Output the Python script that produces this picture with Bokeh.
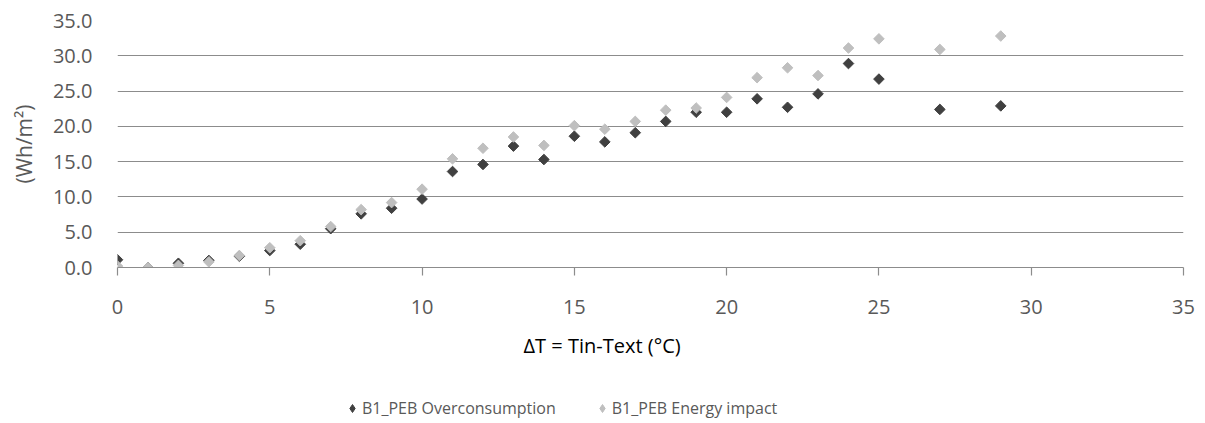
import math
from bokeh.plotting import figure
from bokeh.layouts import column
from bokeh.models import (ColumnDataSource, FixedTicker, NumeralTickFormatter,
                          Legend, LegendItem, Title)
from bokeh.embed import file_html
from bokeh.resources import INLINE

# ---- data ----
delta_t = [0, 1, 2, 3, 4, 5, 6, 7, 8, 9, 10, 11, 12, 13, 14, 15, 16, 17, 18,
           19, 20, 21, 22, 23, 24, 25, 27, 29]
overconsumption = [1.1, 0.0, 0.6, 1.0, 1.6, 2.4, 3.3, 5.5, 7.6, 8.4, 9.7, 13.6,
                   14.6, 17.2, 15.3, 18.6, 17.8, 19.1, 20.7, 22.0, 22.0, 23.9,
                   22.7, 24.6, 28.9, 26.7, 22.4, 22.9]
energy_impact = [0.2, 0.0, 0.3, 0.8, 1.7, 2.8, 3.8, 5.8, 8.2, 9.2, 11.1, 15.4,
                 16.9, 18.5, 17.3, 20.1, 19.6, 20.7, 22.3, 22.6, 24.1, 26.9,
                 28.3, 27.2, 31.1, 32.4, 30.9, 32.8]
series_names = ["B1_PEB Overconsumption", "B1_PEB Energy impact"]
series_colors = ["#404040", "#bfbfbf"]
x_ticks = [0, 5, 10, 15, 20, 25, 30, 35]
y_ticks = [0, 5, 10, 15, 20, 25, 30, 35]
x_title = "ΔT = Tin-Text (°C)"
y_title = "(Wh/m²)"

FONT = "Open Sans"
GRID = "#8c8c8c"
TXT = "#595959"
MARK = dict(marker="square", angle=math.pi / 4, size=7.5)

src = ColumnDataSource(dict(x=delta_t, a=overconsumption, b=energy_impact))

p = figure(width=1197, height=394, output_backend="svg", toolbar_location=None,
           x_range=(0, 35), y_range=(0, 35),
           min_border_left=117, min_border_right=14, min_border_top=20,
           min_border_bottom=127)
p.outline_line_color = None
p.background_fill_color = "white"
p.border_fill_color = "white"

p.scatter("x", "a", source=src, fill_color=series_colors[0],
          line_color=series_colors[0], **MARK)
p.scatter("x", "b", source=src, fill_color=series_colors[1],
          line_color=series_colors[1], **MARK)

# grid
p.xgrid.grid_line_color = None
p.ygrid.grid_line_color = GRID
p.ygrid.grid_line_width = 1.2
p.ygrid.ticker = FixedTicker(ticks=y_ticks)

# x axis
xa = p.xaxis[0]
xa.ticker = FixedTicker(ticks=x_ticks)
xa.axis_line_color = GRID
xa.axis_line_width = 1.2
xa.major_tick_line_color = GRID
xa.major_tick_line_width = 1.2
xa.major_tick_out = 8
xa.major_tick_in = 0
xa.minor_tick_line_color = None
xa.major_label_standoff = 24
xa.major_label_text_font = FONT
xa.major_label_text_font_size = "20px"
xa.major_label_text_color = TXT

# y axis
ya = p.yaxis[0]
ya.ticker = FixedTicker(ticks=y_ticks)
ya.formatter = NumeralTickFormatter(format="0.0")
ya.axis_line_color = None
ya.major_tick_line_color = None
ya.minor_tick_line_color = None
ya.major_tick_out = 0
ya.major_tick_in = 0
ya.major_label_standoff = 25
ya.major_label_text_font = FONT
ya.major_label_text_font_size = "20px"
ya.major_label_text_color = TXT
ya.axis_label = y_title
ya.axis_label_text_font = FONT
ya.axis_label_text_font_size = "21px"
ya.axis_label_text_font_style = "normal"
ya.axis_label_text_color = TXT
ya.axis_label_standoff = 12

# x axis title (centred on the chart area as in the reference)
t = Title(text=x_title, align="left", offset=406, text_font=FONT,
          text_font_size="20px", text_font_style="normal", text_color="#000000",
          standoff=26)
p.add_layout(t, "below")

# legend strip below the chart (same series, drawn outside its visible range)
pl = figure(width=1197, height=27, output_backend="svg", toolbar_location=None,
            x_range=(-100, -99), y_range=(-100, -99), x_axis_location=None,
            y_axis_location=None, min_border_left=117, min_border_right=14,
            min_border_top=0, min_border_bottom=0)
pl.outline_line_color = None
pl.xgrid.visible = False
pl.ygrid.visible = False
lr1 = pl.scatter("x", "a", source=src, marker="diamond", size=8,
                 fill_color=series_colors[0], line_color=series_colors[0])
lr2 = pl.scatter("x", "b", source=src, marker="diamond", size=8,
                 fill_color=series_colors[1], line_color=series_colors[1])
legend = Legend(items=[LegendItem(label=series_names[0], renderers=[lr1]),
                       LegendItem(label=series_names[1], renderers=[lr2])],
                orientation="horizontal", location=(225, 2),
                label_text_font=FONT, label_text_font_size="16px",
                label_text_color=TXT, glyph_width=20, glyph_height=20,
                label_standoff=0, spacing=36, padding=0, margin=0,
                border_line_color=None, background_fill_alpha=0)
pl.add_layout(legend, "center")

layout = column(p, pl, spacing=0)
open("out.html", "w").write(file_html(layout, INLINE))
